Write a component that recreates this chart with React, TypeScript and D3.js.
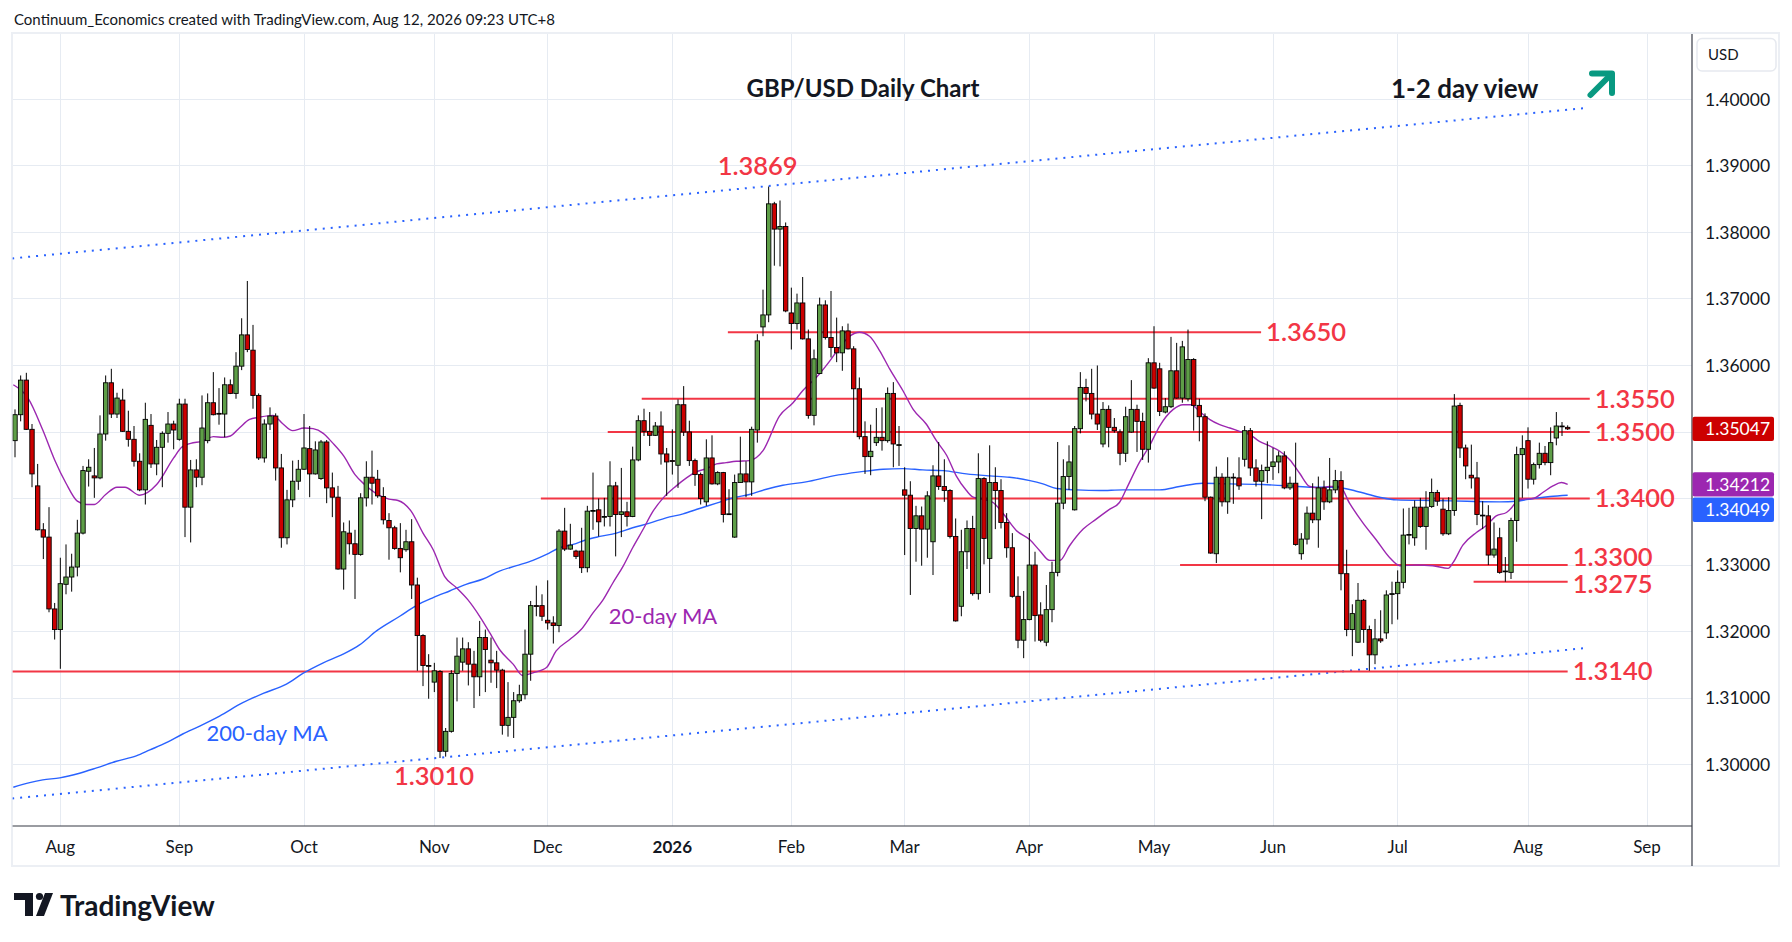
import { useMemo } from "react";
import * as d3 from "d3";

// daily candles, Jul 22 2025 .. Aug 12 2026 : [open, high, low, close]
const candles: [number, number, number, number][] = [
  [1.3487, 1.3534, 1.3462, 1.3526], [1.3526, 1.3585, 1.3516, 1.3578], [1.3578, 1.3589, 1.3503, 1.3504],
  [1.3504, 1.3512, 1.3417, 1.3437], [1.3419, 1.3452, 1.3352, 1.3353], [1.3353, 1.3363, 1.3309, 1.3342],
  [1.3342, 1.3387, 1.3229, 1.3234], [1.3234, 1.3243, 1.3188, 1.3203], [1.3203, 1.3311, 1.3144, 1.3272],
  [1.3271, 1.3331, 1.3256, 1.3282], [1.3282, 1.3317, 1.326, 1.3297], [1.3297, 1.3368, 1.3283, 1.3348],
  [1.3348, 1.3449, 1.3346, 1.3442], [1.3441, 1.3459, 1.3418, 1.3447], [1.3434, 1.3476, 1.3401, 1.3431],
  [1.3431, 1.3525, 1.3429, 1.3497], [1.3497, 1.3585, 1.3487, 1.3574], [1.3574, 1.3595, 1.3521, 1.3527],
  [1.3527, 1.3559, 1.3521, 1.3551], [1.3548, 1.3565, 1.35, 1.3501], [1.3501, 1.3532, 1.3478, 1.3489],
  [1.3489, 1.3509, 1.3448, 1.3456], [1.3456, 1.3468, 1.3411, 1.3413], [1.3413, 1.3544, 1.3391, 1.3519],
  [1.351, 1.3527, 1.3446, 1.3452], [1.3452, 1.3488, 1.3435, 1.3477], [1.3477, 1.3501, 1.3417, 1.3498],
  [1.3498, 1.353, 1.3484, 1.3512], [1.3512, 1.3517, 1.3474, 1.3503], [1.3489, 1.355, 1.3487, 1.3542],
  [1.3542, 1.355, 1.3342, 1.3387], [1.3387, 1.3458, 1.3334, 1.3443], [1.3443, 1.3459, 1.3417, 1.3432],
  [1.3432, 1.3555, 1.342, 1.3506], [1.3487, 1.3558, 1.3483, 1.3544], [1.3544, 1.359, 1.3525, 1.3526],
  [1.3528, 1.3566, 1.3511, 1.3527], [1.3527, 1.3582, 1.3492, 1.3571], [1.3571, 1.3579, 1.3557, 1.3558],
  [1.3558, 1.362, 1.355, 1.3599], [1.3599, 1.3671, 1.3593, 1.3646], [1.3646, 1.3727, 1.362, 1.3624],
  [1.3623, 1.3661, 1.3535, 1.3555], [1.3555, 1.3558, 1.3458, 1.3461], [1.3461, 1.3519, 1.3454, 1.3512],
  [1.3512, 1.3537, 1.3503, 1.3524], [1.3524, 1.3528, 1.3427, 1.3446], [1.3446, 1.3467, 1.3326, 1.3341],
  [1.3341, 1.3413, 1.3331, 1.3398], [1.3398, 1.3457, 1.3387, 1.3426], [1.3426, 1.3458, 1.3413, 1.3444],
  [1.3444, 1.3527, 1.3443, 1.3476], [1.3475, 1.3509, 1.3402, 1.3437], [1.3437, 1.3486, 1.3436, 1.3473],
  [1.343, 1.3488, 1.3428, 1.3485], [1.3485, 1.3488, 1.3393, 1.3416], [1.3416, 1.3439, 1.3372, 1.3402],
  [1.3402, 1.3419, 1.3293, 1.3294], [1.3294, 1.3364, 1.3263, 1.335], [1.3348, 1.3367, 1.3316, 1.3332],
  [1.3332, 1.3353, 1.3249, 1.3316], [1.3316, 1.3408, 1.3314, 1.3401], [1.3401, 1.3456, 1.3388, 1.3432],
  [1.3432, 1.3472, 1.3391, 1.3423], [1.3429, 1.3443, 1.3401, 1.3404], [1.3403, 1.3417, 1.3361, 1.3368],
  [1.3367, 1.3378, 1.3308, 1.3356], [1.3356, 1.3359, 1.3323, 1.3325], [1.3325, 1.3363, 1.3289, 1.3311],
  [1.3323, 1.3353, 1.332, 1.3335], [1.3335, 1.3369, 1.3249, 1.327], [1.327, 1.3281, 1.3141, 1.3194],
  [1.3194, 1.3196, 1.3118, 1.3149], [1.3149, 1.3166, 1.3099, 1.3148], [1.3124, 1.3153, 1.3109, 1.3141],
  [1.314, 1.3142, 1.301, 1.302], [1.302, 1.3055, 1.3012, 1.305], [1.305, 1.3142, 1.3048, 1.3137],
  [1.3137, 1.3191, 1.3095, 1.3163], [1.3154, 1.3191, 1.3141, 1.3174], [1.3174, 1.3184, 1.3119, 1.3151],
  [1.3151, 1.3171, 1.3085, 1.3132], [1.3132, 1.3216, 1.3103, 1.3191], [1.3191, 1.3203, 1.3109, 1.3173],
  [1.3157, 1.3191, 1.3123, 1.3153], [1.3153, 1.3171, 1.3115, 1.3142], [1.3142, 1.3144, 1.3045, 1.3059],
  [1.3059, 1.3124, 1.3042, 1.3071], [1.3071, 1.3109, 1.304, 1.3096], [1.3096, 1.312, 1.3093, 1.3105],
  [1.3105, 1.3203, 1.3098, 1.3166], [1.3166, 1.3246, 1.3126, 1.3239], [1.3239, 1.3269, 1.3223, 1.3238],
  [1.3239, 1.3256, 1.3216, 1.3223], [1.3217, 1.3277, 1.3203, 1.3213], [1.3213, 1.3223, 1.3182, 1.3209],
  [1.3209, 1.3354, 1.3199, 1.3351], [1.3351, 1.3386, 1.3321, 1.3324], [1.3324, 1.3362, 1.3323, 1.333],
  [1.3321, 1.3323, 1.3309, 1.3313], [1.3321, 1.3356, 1.3288, 1.3296], [1.3296, 1.3389, 1.3289, 1.3381],
  [1.3382, 1.3439, 1.3353, 1.3382], [1.3383, 1.34, 1.3343, 1.3365], [1.3372, 1.3401, 1.3358, 1.3373],
  [1.3373, 1.3456, 1.3358, 1.3419], [1.3419, 1.3425, 1.3313, 1.3376], [1.3376, 1.3446, 1.3342, 1.338],
  [1.338, 1.3395, 1.3358, 1.3373], [1.3373, 1.3478, 1.3372, 1.3458], [1.3458, 1.3525, 1.3456, 1.3517],
  [1.3517, 1.3535, 1.3494, 1.3501], [1.3501, 1.353, 1.3479, 1.3495], [1.3495, 1.3515, 1.3494, 1.3509],
  [1.3509, 1.3531, 1.3451, 1.3467], [1.3467, 1.3476, 1.3404, 1.3455], [1.3457, 1.3504, 1.3436, 1.3456],
  [1.345, 1.3549, 1.3416, 1.3541], [1.3541, 1.3569, 1.3494, 1.35], [1.35, 1.3517, 1.3449, 1.3457],
  [1.3457, 1.346, 1.3419, 1.3436], [1.3436, 1.3439, 1.3391, 1.34], [1.3395, 1.3489, 1.3389, 1.3461],
  [1.3461, 1.3495, 1.3421, 1.3422], [1.3422, 1.3441, 1.342, 1.3439], [1.3439, 1.344, 1.3364, 1.3376],
  [1.3377, 1.3414, 1.3376, 1.3377], [1.3342, 1.3436, 1.3341, 1.3424], [1.3424, 1.3493, 1.3424, 1.3437],
  [1.3437, 1.3456, 1.3402, 1.3425], [1.3425, 1.3508, 1.3404, 1.3504], [1.3503, 1.3647, 1.3484, 1.3637],
  [1.3658, 1.3714, 1.3644, 1.3676], [1.3676, 1.3869, 1.3665, 1.3843], [1.3843, 1.3846, 1.375, 1.3805],
  [1.3805, 1.3848, 1.3749, 1.3809], [1.3809, 1.3815, 1.368, 1.3682], [1.3679, 1.3717, 1.3624, 1.3663],
  [1.3663, 1.3708, 1.3654, 1.3694], [1.3694, 1.3733, 1.3639, 1.364], [1.364, 1.3654, 1.352, 1.3525],
  [1.3525, 1.3624, 1.351, 1.361], [1.3588, 1.3702, 1.3587, 1.3691], [1.3691, 1.3698, 1.3639, 1.3642],
  [1.3642, 1.3712, 1.3612, 1.3627], [1.3627, 1.3672, 1.3605, 1.3619], [1.3619, 1.3659, 1.3592, 1.3652],
  [1.3652, 1.3663, 1.3624, 1.3625], [1.3625, 1.3629, 1.3499, 1.3565], [1.3565, 1.3582, 1.3489, 1.3493],
  [1.3493, 1.3516, 1.3437, 1.3463], [1.3463, 1.3511, 1.3435, 1.3471], [1.3484, 1.3536, 1.3479, 1.3492],
  [1.3492, 1.3537, 1.3472, 1.3487], [1.3487, 1.3567, 1.3484, 1.3558], [1.3558, 1.3575, 1.3447, 1.3482],
  [1.3481, 1.3509, 1.3449, 1.3481], [1.3413, 1.3447, 1.3315, 1.3405], [1.3405, 1.3426, 1.3255, 1.3355],
  [1.3355, 1.3389, 1.3305, 1.3374], [1.3374, 1.3388, 1.3299, 1.3354], [1.3354, 1.3411, 1.3311, 1.3404],
  [1.3335, 1.345, 1.3285, 1.3434], [1.3434, 1.3485, 1.3413, 1.3418], [1.3418, 1.3459, 1.3395, 1.3412],
  [1.3412, 1.3414, 1.334, 1.3343], [1.3343, 1.337, 1.3215, 1.3216], [1.3238, 1.3353, 1.3223, 1.332],
  [1.332, 1.3367, 1.3294, 1.3355], [1.3355, 1.3374, 1.3254, 1.3257], [1.3257, 1.3468, 1.3248, 1.343],
  [1.343, 1.3432, 1.3301, 1.334], [1.331, 1.348, 1.3258, 1.3424], [1.3424, 1.3447, 1.3354, 1.3412],
  [1.3412, 1.3429, 1.3355, 1.3364], [1.3364, 1.3378, 1.3311, 1.3326], [1.3326, 1.3348, 1.3251, 1.3253],
  [1.3253, 1.3283, 1.3175, 1.3187], [1.3187, 1.3261, 1.316, 1.3218], [1.3218, 1.3348, 1.3217, 1.33],
  [1.33, 1.332, 1.3185, 1.3224], [1.3225, 1.3244, 1.3184, 1.3187], [1.3184, 1.327, 1.3178, 1.3233],
  [1.3233, 1.3305, 1.3214, 1.3289], [1.3289, 1.3485, 1.3283, 1.3393], [1.3393, 1.3459, 1.3384, 1.3433],
  [1.3433, 1.348, 1.3413, 1.3455], [1.3383, 1.3509, 1.3382, 1.3505], [1.3505, 1.359, 1.3498, 1.3567],
  [1.3567, 1.358, 1.3546, 1.3558], [1.3558, 1.3595, 1.3519, 1.3527], [1.3527, 1.36, 1.3503, 1.3512],
  [1.3482, 1.3545, 1.3477, 1.3534], [1.3534, 1.354, 1.3477, 1.3507], [1.3507, 1.3521, 1.3499, 1.3502],
  [1.35, 1.3504, 1.345, 1.3468], [1.3468, 1.3538, 1.3455, 1.3523], [1.35, 1.3578, 1.3499, 1.3534],
  [1.3534, 1.3541, 1.347, 1.3516], [1.3516, 1.3529, 1.3458, 1.3474], [1.3474, 1.3611, 1.3454, 1.3604],
  [1.3604, 1.3659, 1.3565, 1.3566], [1.3595, 1.3604, 1.3524, 1.3531], [1.353, 1.3551, 1.3528, 1.3538],
  [1.3538, 1.3643, 1.3536, 1.3592], [1.3592, 1.3634, 1.355, 1.3551], [1.3551, 1.3637, 1.3544, 1.3628],
  [1.355, 1.3654, 1.3546, 1.3609], [1.3609, 1.3611, 1.3502, 1.354], [1.354, 1.355, 1.3486, 1.3523],
  [1.3523, 1.3528, 1.3396, 1.3402], [1.3402, 1.3403, 1.3317, 1.3318], [1.3317, 1.3448, 1.3303, 1.3432],
  [1.3432, 1.3438, 1.3388, 1.3395], [1.3395, 1.3462, 1.3377, 1.3432], [1.3432, 1.3438, 1.3392, 1.3431],
  [1.3431, 1.3462, 1.3413, 1.3419], [1.3459, 1.3509, 1.3448, 1.3502], [1.3502, 1.3506, 1.3434, 1.3446],
  [1.3446, 1.3459, 1.3418, 1.3426], [1.3426, 1.3451, 1.3369, 1.3442], [1.3442, 1.3486, 1.3423, 1.3447],
  [1.3448, 1.3476, 1.3428, 1.3455], [1.3455, 1.3471, 1.3438, 1.3464], [1.3464, 1.3471, 1.3414, 1.3416],
  [1.3416, 1.3433, 1.3413, 1.3423], [1.3423, 1.3484, 1.3329, 1.3331], [1.3317, 1.3348, 1.3308, 1.3339],
  [1.3339, 1.3388, 1.3331, 1.3378], [1.3378, 1.3423, 1.3363, 1.3368], [1.3368, 1.3433, 1.3326, 1.3416],
  [1.3416, 1.3427, 1.3383, 1.3395], [1.3395, 1.3461, 1.3393, 1.3413], [1.3413, 1.3443, 1.3408, 1.3427],
  [1.3427, 1.3441, 1.3262, 1.3287], [1.3287, 1.3323, 1.3193, 1.3203], [1.3203, 1.3241, 1.3163, 1.3227],
  [1.3184, 1.3273, 1.3183, 1.3247], [1.3247, 1.3249, 1.3183, 1.3203], [1.3203, 1.3209, 1.3141, 1.3165],
  [1.3165, 1.3219, 1.3151, 1.3189], [1.3189, 1.3232, 1.3183, 1.3186], [1.3198, 1.3262, 1.3189, 1.3255],
  [1.3256, 1.3275, 1.3211, 1.3257], [1.3257, 1.3292, 1.3218, 1.3274], [1.3274, 1.3385, 1.3265, 1.3345],
  [1.3345, 1.3386, 1.3331, 1.3346], [1.3341, 1.3397, 1.3329, 1.3387], [1.3387, 1.3401, 1.3356, 1.3358],
  [1.3358, 1.3411, 1.3323, 1.3387], [1.3388, 1.343, 1.3386, 1.3409], [1.3409, 1.3413, 1.3389, 1.3396],
  [1.3384, 1.34, 1.3344, 1.3347], [1.3347, 1.3402, 1.3345, 1.3382], [1.3382, 1.3557, 1.3374, 1.3539],
  [1.354, 1.3544, 1.3461, 1.3476], [1.3476, 1.3481, 1.3429, 1.3449], [1.3435, 1.3481, 1.3415, 1.3431],
  [1.3431, 1.3455, 1.336, 1.3376], [1.3375, 1.3396, 1.3354, 1.3374], [1.3374, 1.339, 1.33, 1.3315],
  [1.3315, 1.3364, 1.3311, 1.3324], [1.3341, 1.3356, 1.3287, 1.3289], [1.329, 1.3312, 1.3275, 1.3291],
  [1.3289, 1.3371, 1.3279, 1.3367], [1.3367, 1.3478, 1.3335, 1.3466], [1.3466, 1.3495, 1.3401, 1.3475],
  [1.3487, 1.3507, 1.3415, 1.3429], [1.3429, 1.3454, 1.3421, 1.3451], [1.3451, 1.3484, 1.3445, 1.3468],
  [1.3468, 1.3479, 1.345, 1.3454], [1.3454, 1.3507, 1.3435, 1.3484], [1.3491, 1.353, 1.348, 1.3509],
  [1.3509, 1.3515, 1.3494, 1.3508], [1.3507, 1.351, 1.3503, 1.35047],
];

const ma20: [number, number][] = [
  [-0.3, 1.3571], [2.3, 1.3551], [4.9, 1.3503], [7, 1.3458], [9, 1.3423], [11, 1.3396], [12.6, 1.3391],
  [14, 1.3391], [16, 1.3406], [18, 1.3417], [19.4, 1.3417], [22, 1.3405], [25, 1.3421], [28, 1.3461],
  [29.4, 1.3477], [31, 1.3483], [33, 1.3486], [35, 1.3493], [36.7, 1.3492], [38, 1.3494], [39.6, 1.3506],
  [41.4, 1.3519], [43, 1.3522], [45.5, 1.3525], [47.3, 1.3512], [49, 1.3502], [51, 1.3506], [52.6, 1.3505],
  [54.4, 1.3498], [56, 1.3484], [58, 1.3464], [60, 1.3436], [61.7, 1.3421], [63.8, 1.3407], [66, 1.3399],
  [67.6, 1.3397], [69.9, 1.3381], [72, 1.3348], [73.8, 1.3323], [75.8, 1.3283], [77.9, 1.3266],
  [79.9, 1.3248], [82, 1.3223], [83.8, 1.3198], [85.5, 1.3173], [87.9, 1.3151], [89.6, 1.3134],
  [91.4, 1.3138], [93.8, 1.3146], [95.5, 1.3171], [97.9, 1.3188], [99.9, 1.3203], [102, 1.3228],
  [103.8, 1.3248], [105.5, 1.3273], [107.3, 1.3298], [109, 1.3326], [110.8, 1.3353], [112.6, 1.3381],
  [114.4, 1.3401], [116.7, 1.3419], [118.5, 1.3431], [120.2, 1.344], [122, 1.3445], [123.8, 1.3452],
  [125.5, 1.3454], [127.3, 1.3456], [129.6, 1.3457], [132, 1.3472], [134.9, 1.3524], [137.3, 1.3544],
  [139, 1.3562], [141.4, 1.3582], [143.8, 1.3607], [145.5, 1.3627], [147.3, 1.3644], [149, 1.365],
  [150.8, 1.3644], [152.6, 1.3622], [154.4, 1.3594], [156.7, 1.3562], [158.5, 1.3534], [160.8, 1.3512],
  [162.6, 1.3487], [164.4, 1.3465], [166.1, 1.3434], [167.9, 1.3412], [169.1, 1.3402], [170.8, 1.3399],
  [172.6, 1.3394], [174.4, 1.3377], [176.7, 1.3352], [179.1, 1.3338], [180.8, 1.3322], [182.6, 1.3307],
  [184.4, 1.3307], [186.1, 1.3329], [188.5, 1.3354], [190.8, 1.3369], [193.2, 1.3384], [194.9, 1.3394],
  [196.1, 1.3414], [198.4, 1.3454], [200.2, 1.3479], [202, 1.3509], [204.4, 1.3534], [206.1, 1.3541],
  [207.6, 1.3541], [209, 1.3531], [210.8, 1.3519], [212.6, 1.3511], [214.4, 1.3506], [216.1, 1.3501],
  [217.9, 1.3496], [219.6, 1.3486], [221.4, 1.3479], [223.2, 1.3471], [225, 1.3458], [226.7, 1.3438],
  [228.5, 1.3418], [230.2, 1.3416], [232, 1.3418], [233.8, 1.3418], [235.5, 1.3393], [237.9, 1.3363],
  [240.2, 1.3338], [242.6, 1.3311], [244.4, 1.3299], [247.3, 1.33], [250.2, 1.3299], [252.9, 1.3295],
  [253.8, 1.3304], [255.5, 1.333], [257.9, 1.3349], [259.6, 1.3359], [261.4, 1.3374], [263.2, 1.3379],
  [264.1, 1.3386], [265, 1.3396], [265.9, 1.3399], [267.9, 1.34], [269.6, 1.3409], [271.4, 1.3419],
  [272.9, 1.3424], [274, 1.34212],
];

const ma200: [number, number][] = [
  [-0.3, 1.2966], [2.6, 1.2973], [4.9, 1.2977], [7.9, 1.298], [11.4, 1.2987], [14.4, 1.2995],
  [17.9, 1.3005], [21.4, 1.3013], [23.8, 1.3022], [26.7, 1.3033], [29.6, 1.3046], [32.6, 1.3058],
  [36.1, 1.3073], [40.2, 1.3093], [43.8, 1.3107], [47.9, 1.3121], [50.8, 1.3137], [54.4, 1.3153],
  [57.9, 1.3166], [60.8, 1.318], [63.8, 1.3201], [67.9, 1.3223], [70.8, 1.3239], [73.8, 1.3251],
  [76.7, 1.3261], [79.6, 1.3271], [82.6, 1.3279], [85.5, 1.3291], [88.5, 1.3299], [91.4, 1.3307],
  [93.8, 1.3316], [96.1, 1.3326], [98.5, 1.3331], [100.8, 1.3338], [103.2, 1.3343], [106.1, 1.3348],
  [109, 1.3356], [112, 1.3363], [114.9, 1.3371], [117.9, 1.3377], [120.8, 1.3385], [123.8, 1.3393],
  [126.7, 1.3401], [129.6, 1.3406], [132.6, 1.3414], [135.5, 1.342], [139.6, 1.3425], [144.4, 1.3434],
  [149.1, 1.344], [153.2, 1.3444], [156.7, 1.3445], [160.2, 1.3443], [163.8, 1.3442], [167.9, 1.3437],
  [172, 1.3434], [175.5, 1.3432], [179.1, 1.3427], [181.4, 1.3422], [183.8, 1.3415], [187.3, 1.3413],
  [191.4, 1.3412], [195.5, 1.3413], [202, 1.3413], [205.5, 1.3418], [209.6, 1.3423], [214.4, 1.3422],
  [220.2, 1.3421], [225, 1.3419], [229, 1.3417], [233.1, 1.3417], [236.7, 1.3411], [240.8, 1.3402],
  [243.8, 1.3398], [250.2, 1.3397], [256.2, 1.3396], [262, 1.3395], [265, 1.3396], [267.9, 1.34],
  [270.9, 1.3403], [274, 1.34049],
];

// horizontal support / resistance levels: price, first and last bar index
const levelPrices = [1.365, 1.355, 1.35, 1.34, 1.33, 1.3275, 1.314];
const levelFrom = [125.8, 110.6, 104.6, 92.8, 205.6, 257.4, -0.5];
const levelTo = [219.9, 277.9, 277.9, 277.9, 274, 274, 274];

// channel lines: [bar index, price] at both ends
const channelUpper: [number, number][] = [[-0.5, 1.3761], [277, 1.3987]];
const channelLower: [number, number][] = [[-0.5, 1.2949], [277, 1.3175]];

const peakLabel = { index: 133, price: 1.3869, text: "1.3869" };
const troughLabel = { index: 75, price: 1.301, text: "1.3010" };

const priceTicks = [1.3, 1.31, 1.32, 1.33, 1.34, 1.35, 1.36, 1.37, 1.38, 1.39, 1.4];
const holidays = ["2025-12-25", "2026-01-01"];
const monthNames = ["Jan", "Feb", "Mar", "Apr", "May", "Jun", "Jul", "Aug", "Sep", "Oct", "Nov", "Dec"];

const W = 1792;
const H = 942;
const plot = { left: 12.6, right: 1691.5, top: 34, bottom: 826 };
const FONT = "Lato, 'Open Sans', 'DejaVu Sans', sans-serif";
const GREEN = "#5e9e47";
const RED = "#cc0000";
const LEVEL = "#f23645";
const BLUE = "#2962ff";
const PURPLE = "#9c27b0";
const LABEL_SIZE = 25.5;

// trading days from the first bar until the end of the visible range
function tradingDays(count: number) {
  const out: Date[] = [];
  const d = new Date(Date.UTC(2025, 6, 22));
  while (out.length < count) {
    const wd = d.getUTCDay();
    const iso = d.toISOString().slice(0, 10);
    if (wd !== 0 && wd !== 6 && !holidays.includes(iso)) out.push(new Date(d));
    d.setUTCDate(d.getUTCDate() + 1);
  }
  return out;
}

export default function App() {
  const x = d3.scaleLinear().domain([0, 288]).range([15, 1647]);
  const y = d3.scaleLinear().domain([1.3, 1.4]).range([764.6, 99.4]);

  const monthTicks = useMemo(() => {
    const days = tradingDays(296);
    const ticks: { i: number; label: string; year: boolean }[] = [];
    for (let i = 1; i < days.length; i++) {
      if (days[i].getUTCMonth() !== days[i - 1].getUTCMonth()) {
        const m = days[i].getUTCMonth();
        ticks.push({ i, label: m === 0 ? String(days[i].getUTCFullYear()) : monthNames[m], year: m === 0 });
      }
    }
    return ticks;
  }, []);

  const line = d3
    .line<[number, number]>()
    .x((d) => x(d[0]))
    .y((d) => y(d[1]))
    .curve(d3.curveMonotoneX);
  const straight = d3
    .line<[number, number]>()
    .x((d) => x(d[0]))
    .y((d) => y(d[1]));

  // level labels: nudge apart the ones that end at the same x and sit too close
  const levelLabels = levelPrices.map((p, k) => ({ p, lx: x(levelTo[k]) + 5, ly: y(p) }));
  for (let a = 0; a < levelLabels.length; a++) {
    for (let b = 0; b < levelLabels.length; b++) {
      const A = levelLabels[a];
      const B = levelLabels[b];
      if (A.lx !== B.lx || A.ly >= B.ly) continue;
      const gap = B.ly - A.ly;
      if (gap < 27) {
        A.ly -= (27 - gap) * 0.8;
        B.ly += (27 - gap) * 0.2;
      }
    }
  }

  // last-value boxes on the price scale, stacked so they don't overlap
  const last = candles[candles.length - 1];
  const boxH = 24.4;
  const boxes = [
    { v: last[3], color: last[3] < last[0] ? RED : GREEN },
    { v: ma20[ma20.length - 1][1], color: PURPLE },
    { v: ma200[ma200.length - 1][1], color: BLUE },
  ].map((b) => ({ ...b, cy: y(b.v) }));
  boxes.sort((a, b) => a.cy - b.cy);
  for (let i = 1; i < boxes.length; i++) {
    const minCy = boxes[i - 1].cy + boxH + 1;
    if (boxes[i].cy < minCy) boxes[i].cy = minCy;
  }

  const bodyW = 4.4;

  return (
    <>
      <style>{`body{margin:0;background:#fff}`}</style>
      <svg width={W} height={H} style={{ display: "block", fontFamily: FONT }}>
        <defs>
          <clipPath id="plotClip">
            <rect x={plot.left} y={plot.top} width={plot.right - plot.left} height={plot.bottom - plot.top} />
          </clipPath>
        </defs>
        <rect width={W} height={H} fill="#fff" />

        <text x={14} y={25} fontSize={15} fill="#131722">
          Continuum_Economics created with TradingView.com, Aug 12, 2026 09:23 UTC+8
        </text>

        {/* outer frame */}
        <rect x={12} y={33} width={1767} height={833} fill="none" stroke="#eceff4" strokeWidth={2} />

        {/* grid */}
        <g shapeRendering="crispEdges" stroke="#e6ebf2" strokeWidth={1}>
          {priceTicks.map((t) => (
            <line key={t} x1={plot.left} x2={plot.right} y1={y(t)} y2={y(t)} />
          ))}
          {monthTicks.map((m) => (
            <line key={m.i} x1={x(m.i)} x2={x(m.i)} y1={plot.top} y2={plot.bottom} />
          ))}
        </g>

        <g clipPath="url(#plotClip)">
          {/* channel */}
          <path d={straight(channelUpper) ?? ""} fill="none" stroke={BLUE} strokeWidth={2} strokeDasharray="2 6" />
          <path d={straight(channelLower) ?? ""} fill="none" stroke={BLUE} strokeWidth={2} strokeDasharray="2 6" />

          {/* levels */}
          {levelPrices.map((p, k) => (
            <line
              key={p}
              x1={x(levelFrom[k])}
              x2={x(levelTo[k])}
              y1={y(p)}
              y2={y(p)}
              stroke={LEVEL}
              strokeWidth={2}
            />
          ))}

          {/* moving averages */}
          <path d={line(ma200) ?? ""} fill="none" stroke={BLUE} strokeWidth={1.4} />
          <path d={line(ma20) ?? ""} fill="none" stroke={PURPLE} strokeWidth={1.4} />

          {/* candles */}
          {candles.map(([o, h, l, c], i) => {
            const cx = x(i);
            const top = y(Math.max(o, c));
            const hgt = Math.max(0.8, Math.abs(y(o) - y(c)));
            return (
              <g key={i}>
                <line x1={cx} x2={cx} y1={y(h)} y2={y(l)} stroke="#000" strokeWidth={1} />
                <rect
                  x={cx - bodyW / 2}
                  y={top}
                  width={bodyW}
                  height={hgt}
                  fill={c >= o ? GREEN : RED}
                  stroke="#000"
                  strokeWidth={0.9}
                />
              </g>
            );
          })}
        </g>

        {/* level labels */}
        {levelLabels.map((L) => (
          <text key={L.p} x={L.lx} y={L.ly} dy="0.35em" fontSize={LABEL_SIZE} fontWeight={600} fill={LEVEL}>
            {L.p.toFixed(4)}
          </text>
        ))}
        <text
          x={x(peakLabel.index) - 11}
          y={y(peakLabel.price) - 20}
          dy="0.35em"
          fontSize={LABEL_SIZE}
          fontWeight={600}
          fill={LEVEL}
          textAnchor="middle"
        >
          {peakLabel.text}
        </text>
        <text
          x={x(troughLabel.index) - 6}
          y={y(troughLabel.price) + 18}
          dy="0.35em"
          fontSize={LABEL_SIZE}
          fontWeight={600}
          fill={LEVEL}
          textAnchor="middle"
        >
          {troughLabel.text}
        </text>

        <text x={663} y={616} dy="0.35em" fontSize={22} fill={PURPLE} textAnchor="middle">
          20-day MA
        </text>
        <text x={267} y={733} dy="0.35em" fontSize={22} fill={BLUE} textAnchor="middle">
          200-day MA
        </text>

        <text x={863} y={97} fontSize={24} fontWeight="bold" fill="#131722" textAnchor="middle">
          GBP/USD Daily Chart
        </text>
        <text x={1391} y={98} fontSize={26} fontWeight="bold" fill="#131722">
          1-2 day view
        </text>
        <g stroke="#089981" strokeWidth={6} strokeLinecap="round" strokeLinejoin="round" fill="none">
          <path d="M1590.5,95 L1610.5,75" />
          <path d="M1592,73.5 H1612 V93" />
        </g>

        {/* axes */}
        <line x1={1692} x2={1692} y1={plot.top} y2={866} stroke="#363a45" strokeWidth={1.2} />
        <line x1={plot.left} x2={1692} y1={plot.bottom} y2={plot.bottom} stroke="#363a45" strokeWidth={1.2} />

        <rect x={1697} y={38.5} width={79} height={32.5} rx={5} fill="#fff" stroke="#e6e9ef" strokeWidth={1.5} />
        <text x={1708} y={55} dy="0.35em" fontSize={15} fill="#131722">
          USD
        </text>

        {priceTicks
          .filter((t) => boxes.every((b) => Math.abs(b.cy - y(t)) > 20))
          .map((t) => (
            <text key={t} x={1705} y={y(t)} dy="0.35em" fontSize={17.5} fill="#131722">
              {d3.format(".5f")(t)}
            </text>
          ))}

        {boxes.map((b) => (
          <g key={b.color}>
            <rect x={1692.5} y={b.cy - boxH / 2} width={81.5} height={boxH} rx={2} fill={b.color} />
            <text x={1705} y={b.cy} dy="0.35em" fontSize={17.5} fill="#fff">
              {b.v.toFixed(5)}
            </text>
          </g>
        ))}

        {monthTicks.map((m) => (
          <text
            key={m.i}
            x={x(m.i)}
            y={847}
            dy="0.35em"
            fontSize={17}
            fontWeight={m.year ? "bold" : "normal"}
            fill="#131722"
            textAnchor="middle"
          >
            {m.label}
          </text>
        ))}

        {/* TradingView logo */}
        <g fill="#131722">
          <path d="M14,893 H33 V916 H25 V900 H14 Z" />
          <circle cx={39.5} cy={896.5} r={3.6} />
          <path d="M45,893 H53 L44,916 H36 Z" />
        </g>
        <text x={60} y={916} fontSize={28} fontWeight="bold" fill="#131722">
          TradingView
        </text>
      </svg>
    </>
  );
}
